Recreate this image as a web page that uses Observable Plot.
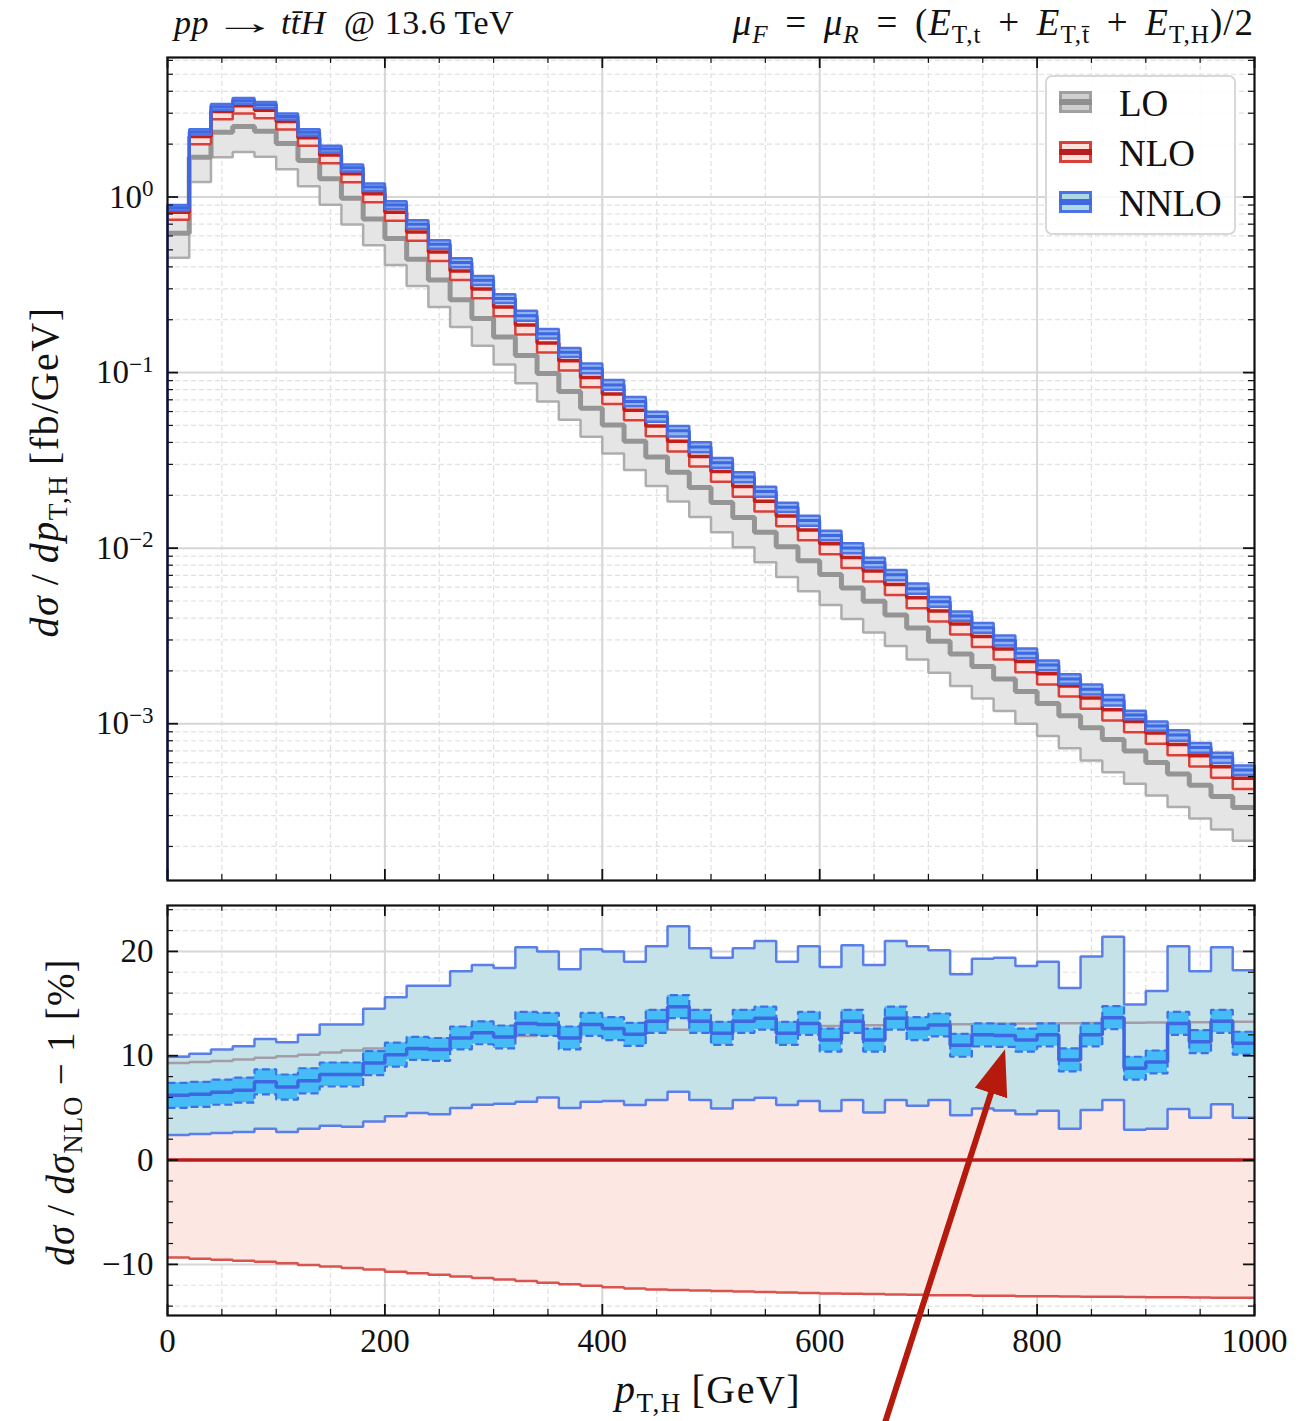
<!DOCTYPE html>
<html><head><meta charset="utf-8">
<script src="https://cdn.jsdelivr.net/npm/d3@7"></script>
<script src="https://cdn.jsdelivr.net/npm/@observablehq/plot@0.6"></script>
<style>
body{margin:0;background:#fff;}
#wrap{position:relative;width:1311px;height:1421px;overflow:hidden;font-family:"Liberation Serif","DejaVu Serif",serif;color:#111;}
.abs{position:absolute;white-space:nowrap;line-height:1;}
sub{font-size:0.68em;vertical-align:-0.32em;line-height:0;font-style:normal;}
.op{margin:0 0.26em;}
.op2{margin:0 0.45em;}
.arr{display:inline-block;transform:scaleX(1.9);margin:0 0.55em;}
.sw{position:absolute;left:12px;width:33px;height:22px;box-sizing:border-box;border-width:3px;border-style:solid;}
.sw .m{position:absolute;left:-3px;right:-3px;top:5px;height:6px;}
.lg{position:absolute;left:72px;font-size:37px;}
</style></head><body><div id="wrap">
<div id="top" class="abs" style="left:0;top:0"></div>
<div id="bot" class="abs" style="left:0;top:880px"></div>

<div class="abs" style="left:174px;top:6px;font-size:34px;letter-spacing:0.5px;"><i>pp</i><span class="arr">→</span><i>t</i><i>t̄</i><i>H</i>&nbsp; @ 13.6 TeV</div>
<div class="abs" style="right:57px;top:4px;font-size:37px;letter-spacing:1px;"><i>μ<sub><i>F</i></sub></i><span class="op2">=</span><i>μ<sub><i>R</i></sub></i><span class="op2">=</span>(<i>E</i><sub>T,t</sub><span class="op2">+</span><i>E</i><sub>T,t̄</sub><span class="op2">+</span><i>E</i><sub>T,H</sub>)/2</div>

<div class="abs" style="left:1045px;top:75px;width:191px;height:160px;box-sizing:border-box;border:2px solid #d8d8d8;border-radius:7px;background:rgba(255,255,255,0.85);">
  <div class="sw" style="top:14px;border-color:#a0a0a0;background:#cfcfcf;"><div class="m" style="background:#8f8f8f"></div></div>
  <div class="lg" style="top:8px;">LO</div>
  <div class="sw" style="top:64px;border-color:#d9403a;background:#fde0dc;"><div class="m" style="background:#b91c1c"></div></div>
  <div class="lg" style="top:58px;">NLO</div>
  <div class="sw" style="top:114px;border-color:#4c72e6;background:#add8e6;"><div class="m" style="background:#3f67e2"></div></div>
  <div class="lg" style="top:108px;">NNLO</div>
</div>

<div class="abs" style="left:45px;top:472px;font-size:40px;letter-spacing:1.5px;transform:translate(-50%,-50%) rotate(-90deg);"><i>dσ</i>&thinsp;/&thinsp;<i>dp</i><sub>T,H</sub>&thinsp;[fb/GeV]</div>
<div class="abs" style="left:60px;top:1112px;font-size:39px;letter-spacing:1.2px;transform:translate(-50%,-50%) rotate(-90deg);"><i>dσ</i>&thinsp;/&thinsp;<i>dσ</i><sub>NLO</sub><span class="op">−</span>1 [%]</div>
<div class="abs" style="left:708px;top:1390px;font-size:40px;letter-spacing:1.5px;transform:translate(-50%,-50%);"><i>p</i><sub>T,H</sub>&thinsp;[GeV]</div>
</div>
<script>
// ---------- data ----------
const binEdges = [0,20,40,60,80,100,120,140,160,180,200,220,240,260,280,300,320,340,360,380,400,
  420,440,460,480,500,520,540,560,580,600,620,640,660,680,700,720,740,760,780,800,
  820,840,860,880,900,920,940,960,980,1000];

// NLO central cross section per bin [fb/GeV]
const nlo = [0.818,2.208,3.064,3.307,3.117,2.688,2.174,1.735,1.355,1.044,
  0.819,0.632,0.486,0.379,0.2993,0.2363,0.1866,0.1474,0.1167,0.0938,
  0.0755,0.0611,0.0496,0.0406,0.0333,0.02734,0.02246,0.01850,0.01526,0.01270,
  0.01059,0.00885,0.00742,0.00621,0.00522,0.00439,0.00370,0.00314,0.002667,0.002263,
  0.001926,0.001642,0.001402,0.001201,0.001031,0.000886,0.000762,0.000657,0.000568,0.000490];

// all following in percent relative to NLO central (dσ/dσ_NLO − 1)
const nloDnPct = [-9.35,-9.45,-9.55,-9.65,-9.75,-9.9,-10.05,-10.2,-10.35,-10.5,
  -10.7,-10.85,-11.0,-11.15,-11.3,-11.45,-11.6,-11.75,-11.9,-12.05,
  -12.2,-12.3,-12.4,-12.45,-12.5,-12.55,-12.6,-12.65,-12.7,-12.75,
  -12.8,-12.82,-12.85,-12.88,-12.9,-12.95,-12.97,-13.0,-13.0,-13.05,
  -13.05,-13.08,-13.1,-13.1,-13.12,-13.15,-13.15,-13.18,-13.2,-13.2];
const nloUpPct = [7.6,7.6,7.7,7.7,7.8,7.8,7.9,7.9,8.0,8.0,
  8.1,8.1,8.2,8.2,8.2,8.3,8.3,8.3,8.3,8.4,
  8.4,8.4,8.4,8.4,8.4,8.4,8.4,8.4,8.4,8.4,
  8.4,8.4,8.4,8.4,8.4,8.4,8.4,8.4,8.4,8.4,
  8.4,8.4,8.4,8.4,8.4,8.4,8.4,8.4,8.4,8.4];
const loPct = [-24.1,-23.7,-23.6,-23.8,-24.1,-25.0,-25.8,-26.7,-27.5,-28.2,
  -29.2,-30.0,-30.7,-31.4,-32.0,-32.5,-32.9,-33.0,-33.1,-33.2,
  -33.3,-33.4,-33.4,-33.4,-33.5,-33.5,-33.4,-33.4,-33.3,-33.2,
  -33.1,-33.0,-32.9,-32.9,-32.8,-32.7,-32.6,-32.6,-32.5,-32.5,
  -32.4,-32.3,-32.3,-32.2,-32.2,-32.1,-32.1,-32.1,-32.1,-32.0];
const loLowPct = [-44.8,-44.8,-45.1,-45.4,-45.7,-46.5,-47.1,-47.9,-48.6,-49.2,
  -50.0,-50.7,-51.4,-52.0,-52.5,-53.0,-53.4,-53.6,-53.8,-54.0,
  -54.2,-54.4,-54.5,-54.6,-54.8,-54.9,-54.9,-55.1,-55.1,-55.2,
  -55.2,-55.3,-55.4,-55.4,-55.5,-55.5,-55.6,-55.7,-55.7,-55.8,
  -55.8,-55.8,-55.9,-55.9,-55.9,-55.9,-56.0,-56.0,-56.0,-56.0];
const loHighPct = [9.3,9.4,9.5,9.65,9.8,9.95,10.1,10.3,10.5,10.7,
  10.9,11.1,11.3,11.45,11.6,11.75,11.9,12.0,12.1,12.2,
  12.3,12.4,12.45,12.5,12.55,12.6,12.65,12.7,12.75,12.8,
  12.85,12.9,12.92,12.95,12.97,13.0,13.02,13.05,13.07,13.1,
  13.1,13.12,13.14,13.15,13.17,13.18,13.2,13.2,13.22,13.25];
const nnloPct = [6.2,6.3,6.5,6.7,7.5,7.0,7.6,8.2,8.2,9.3,
  10.1,10.7,10.6,11.7,12.2,11.8,13.1,13.0,11.7,13.0,
  12.6,12.05,13.3,14.7,13.3,12.15,13.3,13.6,12.15,13.1,
  11.5,13.3,11.5,13.6,12.6,12.95,11.0,12.0,11.95,11.5,
  12.0,9.6,12.0,13.65,8.8,9.4,13.1,11.35,13.3,11.2];
const nnloLowPct = [2.4,2.5,2.6,2.7,3.0,2.7,3.0,3.3,3.2,3.7,
  4.2,4.5,4.4,5.0,5.3,5.4,5.6,6.0,5.0,5.6,
  5.66,5.28,5.76,6.55,5.76,4.95,5.76,5.98,5.28,5.66,
  4.7,5.76,4.57,5.76,5.2,5.76,4.3,4.95,4.76,4.4,
  4.73,3.0,4.79,5.76,2.9,3.0,4.89,4.06,5.35,4.06];
const nnloUpPct = [9.9,10.2,10.6,10.9,11.6,11.3,12.0,13.0,13.0,14.5,
  15.6,16.7,16.7,18.1,18.7,18.4,20.4,20.0,18.3,20.2,
  20.0,19.0,20.5,22.4,20.3,19.4,20.3,21.0,19.0,20.5,
  18.5,20.6,18.7,21.0,20.5,20.1,17.8,19.3,19.4,18.6,
  19.0,16.5,19.5,21.4,14.9,16.2,20.5,18.1,20.4,18.2];
const nnloMcErr = [1.2,1.2,1.2,1.2,1.2,1.2,1.2,1.15,1.15,1.15,
  1.15,1.1,1.1,1.1,1.1,1.1,1.1,1.1,1.1,1.1,
  1.1,1.1,1.1,1.1,1.1,1.1,1.1,1.1,1.1,1.1,
  1.1,1.1,1.1,1.1,1.1,1.1,1.1,1.1,1.1,1.1,
  1.1,1.1,1.1,1.1,1.1,1.1,1.1,1.1,1.1,1.1];

// ticks
const xMajorTicks = [0,200,400,600,800,1000];
const xMinorTicks = [50,100,150,250,300,350,450,500,550,650,700,750,850,900,950];
const yTopMajor = [1e-3,1e-2,1e-1,1];
const yBotMajor = [-10,0,10,20];
const yBotMinor = [-14,-12,-8,-6,-4,-2,2,4,6,8,12,14,16,18,22,24];
const yTopMinor = [];
for (let e = -4; e <= 0; e++) for (let m = 2; m <= 9; m++) { const v = m * Math.pow(10, e); if (v > 1.28e-4 && v < 6.23) yTopMinor.push(v); }

// annotation arrow (drawn on the screenshot), in data units of the ratio panel
const arrowAnnotation = [{x1: 660, y1: -25.2, x2: 768, y2: 9.8}];

// ---------- build rows ----------
const N = nlo.length;
const rows = binEdges.map((x, i) => {
  const j = Math.min(i, N - 1);
  const c = nlo[j];
  const abs = p => c * (1 + p / 100);
  return {
    x,
    nloC: c, nloDn: abs(nloDnPct[j]), nloUp: abs(nloUpPct[j]),
    loC: abs(loPct[j]), loDn: abs(loLowPct[j]), loUp: abs(loHighPct[j]),
    nnloC: abs(nnloPct[j]), nnloDn: abs(nnloLowPct[j]), nnloUp: abs(nnloUpPct[j]),
    mcDn: abs(nnloPct[j] - nnloMcErr[j]), mcUp: abs(nnloPct[j] + nnloMcErr[j]),
    rNlo: (c / c - 1) * 100, rNloDn: nloDnPct[j], rNloUp: nloUpPct[j], rLoUp: loHighPct[j],
    rNnlo: nnloPct[j], rNnloDn: nnloLowPct[j], rNnloUp: nnloUpPct[j],
    rMcDn: nnloPct[j] - nnloMcErr[j], rMcUp: nnloPct[j] + nnloMcErr[j]
  };
});

const yTopDomain = [1.28e-4, 6.23];
const yBotDomain = [-14.9, 24.4];
const W = 1311, ML = 167, MR = 57;
const FW = W - ML - MR;
const step = "step-after";
const L = (y, o) => Plot.line(rows, Object.assign({x: "x", y, curve: step, strokeLinejoin: "miter", strokeLinecap: "butt"}, o));
const A = (y1, y2, fill) => Plot.areaY(rows, {x: "x", y1, y2, curve: step, fill});

function inTicks(xMaj, xMin, yMaj, yMin, FH) {
  const k = {stroke: "#111"};
  return [
    Plot.ruleX(xMaj, {...k, strokeWidth: 1.8, insetTop: FH - 11}),
    Plot.ruleX(xMaj, {...k, strokeWidth: 1.8, insetBottom: FH - 11}),
    Plot.ruleX(xMin, {...k, strokeWidth: 1.2, insetTop: FH - 6}),
    Plot.ruleX(xMin, {...k, strokeWidth: 1.2, insetBottom: FH - 6}),
    Plot.ruleY(yMaj, {...k, strokeWidth: 1.8, insetRight: FW - 11}),
    Plot.ruleY(yMaj, {...k, strokeWidth: 1.8, insetLeft: FW - 11}),
    Plot.ruleY(yMin, {...k, strokeWidth: 1.2, insetRight: FW - 6}),
    Plot.ruleY(yMin, {...k, strokeWidth: 1.2, insetLeft: FW - 6})
  ];
}
const grid = (yMaj, yMin) => [
  Plot.ruleX(xMinorTicks, {stroke: "#e0e0e0", strokeWidth: 1.2, strokeDasharray: "5,3"}),
  Plot.ruleY(yMin, {stroke: "#e0e0e0", strokeWidth: 1.2, strokeDasharray: "5,3"}),
  Plot.ruleX(xMajorTicks.slice(1, -1), {stroke: "#d6d6d6", strokeWidth: 2}),
  Plot.ruleY(yMaj, {stroke: "#d6d6d6", strokeWidth: 2})
];
const style = {fontFamily: "Liberation Serif, DejaVu Serif, serif", fontSize: "33px", color: "#111", background: "transparent", overflow: "visible"};

// ---------- top panel ----------
const topH = 882, topMT = 57, topMB = 2;
const topPlot = Plot.plot({
  width: W, height: topH, marginLeft: ML, marginRight: MR, marginTop: topMT, marginBottom: topMB,
  style,
  x: {domain: [0, 1000], axis: null},
  y: {type: "log", domain: yTopDomain, axis: null},
  marks: [
    ...grid(yTopMajor, yTopMinor),
    A("loDn", "loUp", "#e5e5e5"),
    L("loDn", {stroke: "#adadad", strokeWidth: 2.5}),
    L("loUp", {stroke: "#adadad", strokeWidth: 2.5}),
    L("loC", {stroke: "#959595", strokeWidth: 5}),
    A("nloDn", "nloUp", "#fde0dc"),
    L("nloDn", {stroke: "#d8403a", strokeWidth: 2.5}),
    L("nloUp", {stroke: "#d8403a", strokeWidth: 2.5}),
    L("nloC", {stroke: "#c01f1c", strokeWidth: 3.5}),
    A("nnloDn", "nnloUp", "#8fb3ee"),
    A("mcDn", "mcUp", "#4fa9f2"),
    L("nnloDn", {stroke: "#4c72e6", strokeWidth: 2.5}),
    L("nnloUp", {stroke: "#4c72e6", strokeWidth: 2.5}),
    L("nnloC", {stroke: "#3f67e2", strokeWidth: 3}),
    Plot.ruleX([rows[0], rows[N]], {x: "x", y1: () => yTopDomain[0], y2: "nnloUp", stroke: "#4a4fc8", strokeWidth: 2.5}),
    ...inTicks(xMajorTicks, xMinorTicks, yTopMajor, yTopMinor, topH - topMT - topMB),
    Plot.frame({stroke: "#111", strokeWidth: 2.2}),
    Plot.axisY({ticks: yTopMajor, tickSize: 0, tickPadding: 14, label: null, fontSize: 33,
      tickFormat: d => "10^" + Math.round(Math.log10(d))})
  ]
});
document.getElementById("top").appendChild(topPlot);
d3.select(topPlot).selectAll('g[aria-label="y-axis tick label"] text').each(function () {
  const t = this.textContent.split("^");
  if (t.length !== 2) return;
  const s = d3.select(this);
  s.text(null);
  s.append("tspan").text(t[0]);
  s.append("tspan").attr("dy", "-0.5em").attr("font-size", "0.7em").text(t[1].replace("-", "\u2212"));
});

// ---------- bottom panel ----------
const botH = 541, botMT = 25, botMB = 106;
const botPlot = Plot.plot({
  width: W, height: botH, marginLeft: ML, marginRight: MR, marginTop: botMT, marginBottom: botMB,
  style,
  x: {domain: [0, 1000], axis: null},
  y: {domain: yBotDomain, axis: null},
  marks: [
    ...grid(yBotMajor, yBotMinor),
    A("rNloDn", "rNloUp", "#fde7e3"),
    L("rNloDn", {stroke: "#d9534f", strokeWidth: 2.5}),
    L("rNloUp", {stroke: "#d9534f", strokeWidth: 2.5}),
    A("rNnloDn", "rNnloUp", "#c4e2e8"),
    L("rLoUp", {stroke: "#a49ca6", strokeWidth: 2.5}),
    L("rNnloDn", {stroke: "#5b7fe8", strokeWidth: 2.5}),
    L("rNnloUp", {stroke: "#5b7fe8", strokeWidth: 2.5}),
    A("rMcDn", "rMcUp", "#45bcf5"),
    L("rMcDn", {stroke: "#3b70e6", strokeWidth: 2.2, strokeDasharray: "8,4"}),
    L("rMcUp", {stroke: "#3b70e6", strokeWidth: 2.2, strokeDasharray: "8,4"}),
    L("rNnlo", {stroke: "#3f67e2", strokeWidth: 3.5}),
    L("rNlo", {stroke: "#b81c1c", strokeWidth: 3.5}),
    ...inTicks(xMajorTicks, xMinorTicks, yBotMajor, yBotMinor, botH - botMT - botMB),
    Plot.frame({stroke: "#111", strokeWidth: 2.2}),
    Plot.axisY({ticks: yBotMajor, tickSize: 0, tickPadding: 14, label: null, fontSize: 33,
      tickFormat: d => d < 0 ? "\u2212" + (-d) : String(d)}),
    Plot.axisX({ticks: xMajorTicks, tickSize: 0, tickPadding: 13, label: null, fontSize: 33,
      tickFormat: d => String(d)}),
    Plot.link(arrowAnnotation, {x1: "x1", y1: "y1", x2: "x2", y2: "y2", stroke: "#b51a0c", strokeWidth: 6})
  ]
});
document.getElementById("bot").appendChild(botPlot);
const defs = d3.select(botPlot).append("defs");
defs.append("marker").attr("id", "ahead").attr("markerUnits", "userSpaceOnUse")
  .attr("viewBox", "0 -18 48 36").attr("markerWidth", 48).attr("markerHeight", 36)
  .attr("refX", 37).attr("refY", 0).attr("orient", "auto")
  .append("path").attr("d", "M0,-17L46,0L0,17Z").attr("fill", "#b51a0c");
d3.select(botPlot).select('g[aria-label="link"] path').attr("marker-end", "url(#ahead)");
</script>
</body></html>
